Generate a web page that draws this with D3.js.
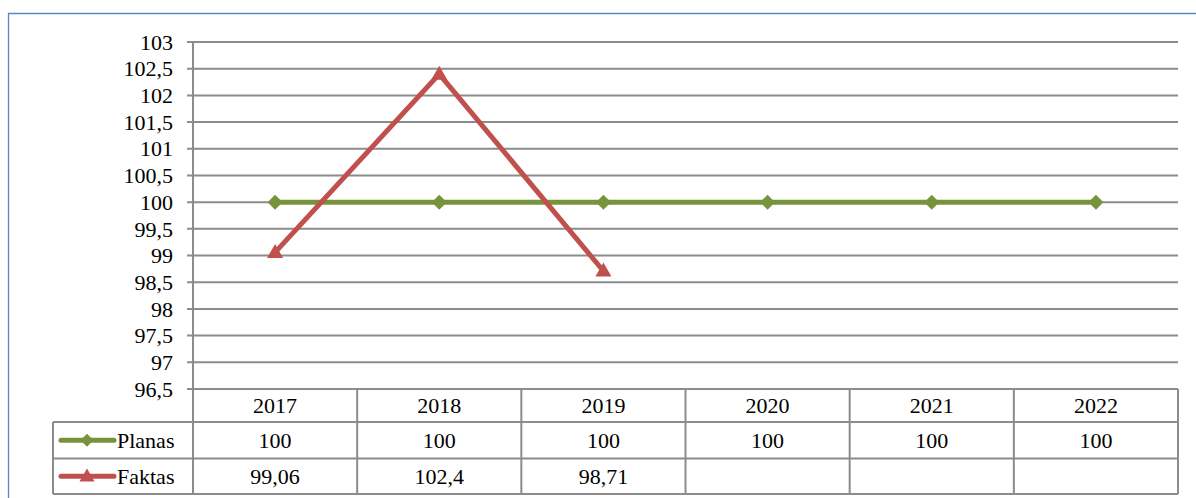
<!DOCTYPE html>
<html><head><meta charset="utf-8">
<script src="https://cdn.jsdelivr.net/npm/d3@7/dist/d3.min.js"></script>
</head><body style="margin:0;background:#fff">
<script>
const years = ["2017","2018","2019","2020","2021","2022"];
const planas = [100,100,100,100,100,100];
const faktas = [99.06,102.4,98.71,null,null,null];
const faktasLabels = ["99,06","102,4","98,71","","",""];
const planasLabels = ["100","100","100","100","100","100"];
const yTicks = [96.5,97,97.5,98,98.5,99,99.5,100,100.5,101,101.5,102,102.5,103];
const seriesNames = ["Planas","Faktas"];

const W=1196,H=498;
const svg=d3.select("body").append("svg").attr("width",W).attr("height",H).style("display","block")
  .attr("font-family","Liberation Serif").style("font-family","Liberation Serif");
const gridCol="#8c8c8c";
const green="#77933C", red="#C0504D";
function txt(sel){ return sel.attr("font-family","Liberation Serif").style("font-family","Liberation Serif").style("font-size","22px").attr("fill","#000"); }

// frame
svg.append("path").attr("d",`M8.5,${H+2} V13.5 H${W+2}`).attr("fill","none").attr("stroke","#5B86C5").attr("stroke-width",1.3);

const x=d3.scaleBand().domain(years).range([193,1178]);
const y=d3.scaleLinear().domain([96.5,103]).range([389,42]);
const rowTop=389, row1=422, row2=458.5, row3=494;

// gridlines
svg.append("g").selectAll("line").data(yTicks).join("line")
  .attr("x1",187).attr("x2",1178).attr("y1",d=>y(d)).attr("y2",d=>y(d))
  .attr("stroke",gridCol).attr("stroke-width",2);

// y labels
txt(svg.append("g").selectAll("text").data(yTicks).join("text")
  .attr("x",173).attr("y",d=>y(d)).attr("dy","0.35em").attr("text-anchor","end"))
  .text(d=>String(d).replace(".",","));

// table lines
const tg=svg.append("g").attr("stroke",gridCol).attr("stroke-width",2).attr("fill","none");
tg.append("line").attr("x1",193).attr("x2",193).attr("y1",42).attr("y2",row3);
years.forEach(yr=>{
  tg.append("line").attr("x1",x(yr)+x.bandwidth()).attr("x2",x(yr)+x.bandwidth()).attr("y1",rowTop).attr("y2",row3);
});
tg.append("line").attr("x1",53).attr("x2",1178).attr("y1",row1).attr("y2",row1);
tg.append("line").attr("x1",53).attr("x2",1178).attr("y1",row2).attr("y2",row2);
tg.append("line").attr("x1",53).attr("x2",1178).attr("y1",row3).attr("y2",row3);
tg.append("line").attr("x1",53).attr("x2",53).attr("y1",row1).attr("y2",row3);

// table text
const tt=svg.append("g").attr("text-anchor","middle");
txt(tt.selectAll(".yr").data(years).join("text").attr("class","yr"))
  .attr("x",d=>x(d)+x.bandwidth()/2).attr("y",(rowTop+row1)/2).attr("dy","0.35em").text(d=>d);
txt(tt.selectAll(".pl").data(planasLabels).join("text").attr("class","pl"))
  .attr("x",(d,i)=>x(years[i])+x.bandwidth()/2).attr("y",(row1+row2)/2).attr("dy","0.35em").text(d=>d);
txt(tt.selectAll(".fk").data(faktasLabels).join("text").attr("class","fk"))
  .attr("x",(d,i)=>x(years[i])+x.bandwidth()/2).attr("y",(row2+row3)/2).attr("dy","0.35em").text(d=>d);

// series
const cx=d=>x(d)+x.bandwidth()/2;
const line=d3.line().defined(d=>d.v!=null).x(d=>cx(d.yr)).y(d=>y(d.v));
const pData=years.map((yr,i)=>({yr,v:planas[i]}));
const fData=years.map((yr,i)=>({yr,v:faktas[i]}));
svg.append("path").datum(pData).attr("d",line).attr("fill","none").attr("stroke",green).attr("stroke-width",5);
svg.append("path").datum(fData).attr("d",line).attr("fill","none").attr("stroke",red).attr("stroke-width",5).attr("stroke-linejoin","miter");
const diamond=(s)=>`M0,${-s}L${s},0L0,${s}L${-s},0Z`;
const tri=(w,h)=>`M0,${-h*0.6}L${w},${h*0.4}L${-w},${h*0.4}Z`;
svg.append("g").selectAll("path").data(pData).join("path")
  .attr("transform",d=>`translate(${cx(d.yr)},${y(d.v)})`).attr("d",diamond(7.5)).attr("fill",green);
svg.append("g").selectAll("path").data(fData.filter(d=>d.v!=null)).join("path")
  .attr("transform",d=>`translate(${cx(d.yr)},${y(d.v)})`).attr("d",tri(8,14)).attr("fill",red);

// legend keys
const legend=[{name:seriesNames[0],col:green,sym:diamond(6.5),yy:(row1+row2)/2},{name:seriesNames[1],col:red,sym:tri(7.5,13),yy:(row2+row3)/2}];
legend.forEach(l=>{
  svg.append("line").attr("x1",61).attr("x2",114).attr("y1",l.yy).attr("y2",l.yy).attr("stroke",l.col).attr("stroke-width",5).attr("stroke-linecap","round");
  svg.append("path").attr("transform",`translate(87,${l.yy})`).attr("d",l.sym).attr("fill",l.col);
  txt(svg.append("text").attr("x",117).attr("y",l.yy).attr("dy","0.35em")).text(l.name);
});
</script>
</body></html>
